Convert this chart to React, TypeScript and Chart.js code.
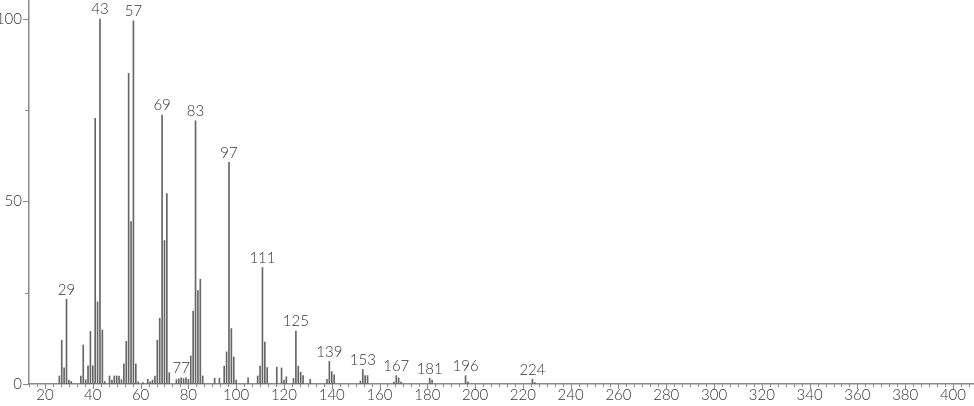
import React, { useEffect, useRef } from 'react';
import { Chart, registerables } from 'chart.js';

Chart.register(...registerables);

const masses = [
  26, 27, 28, 29, 30, 31, 35, 36, 37, 38, 39, 40, 41, 42, 43, 44, 45, 47, 48, 49, 50, 51, 52, 53, 54,
  55, 56, 57, 58, 59, 61, 63, 64, 65, 66, 67, 68, 69, 70, 71, 72, 75, 76, 77, 78, 79, 80, 81, 82, 83,
  84, 85, 86, 91, 93, 95, 96, 97, 98, 99, 100, 105, 109, 110, 111, 112, 113, 117, 119, 120, 121, 124,
  125, 126, 127, 128, 131, 138, 139, 140, 141, 152, 153, 154, 155, 166, 167, 168, 169, 181, 182, 196,
  197, 224, 225,
];

const intensities = [
  2.2, 12, 4.4, 23.2, 1.1, 0.7, 2.2, 10.7, 1.2, 5.0, 14.4, 5.0, 72.8, 22.5, 100, 14.8, 0.7, 2.2, 1.1,
  2.2, 2.2, 2.2, 1.2, 5.5, 11.7, 85.1, 44.5, 99.5, 5.5, 0.6, 0.4, 1.3, 0.6, 1.1, 2.2, 12, 18, 73.7,
  39.3, 52.2, 3.1, 1.2, 1.4, 1.7, 1.5, 1.7, 1.3, 7.7, 20, 72.1, 25.6, 28.7, 2.2, 1.6, 1.6, 4.9, 8.8,
  60.7, 15.2, 7.4, 1.1, 1.7, 2.2, 4.9, 31.9, 11.5, 4.5, 4.6, 4.4, 1.0, 2.0, 1.5, 14.5, 4.9, 3.2, 2.3,
  1.3, 1.3, 6.2, 3.4, 2.5, 0.8, 4.0, 2.3, 2.3, 0.5, 2.3, 1.7, 0.5, 1.6, 1.1, 2.3, 0.6, 1.3, 0.4,
];

const peakLabels = [29, 43, 57, 69, 77, 83, 97, 111, 125, 139, 153, 167, 181, 196, 224];

const xTickLabels = [20, 40, 60, 80, 100, 120, 140, 160, 180, 200, 220, 240, 260, 280, 300, 320, 340, 360, 380, 400];
const yTickLabels = [0, 50, 100];
const yMinorTicks = [25, 75];

const X_MIN = 13.3;
const X_MAX = 408.8;
const Y_MAX = 105.2;
const FONT = 'Lato, "DejaVu Sans", sans-serif';

const tickPlugin = {
  id: 'msTicks',
  afterDraw(chart: any) {
    const ctx = chart.ctx;
    const xs = chart.scales.x;
    const ys = chart.scales.y;
    const area = chart.chartArea;
    ctx.save();
    ctx.strokeStyle = '#8a8a8a';
    ctx.lineWidth = 1;
    const yAll = [...yTickLabels, ...yMinorTicks];
    yAll.forEach((v) => {
      const y = Math.round(ys.getPixelForValue(v)) + 0.5;
      const len = yTickLabels.includes(v) ? 6 : 4;
      ctx.beginPath();
      ctx.moveTo(area.left - len, y);
      ctx.lineTo(area.left, y);
      ctx.stroke();
    });
    const step = 20 / 6;
    const start = Math.ceil(X_MIN / step);
    const end = Math.floor(X_MAX / step);
    for (let i = start; i <= end; i++) {
      const v = i * step;
      const major = i % 6 === 0;
      const x = Math.round(xs.getPixelForValue(v)) + 0.5;
      ctx.beginPath();
      ctx.moveTo(x, area.bottom);
      ctx.lineTo(x, area.bottom + (major ? 5 : 3));
      ctx.stroke();
    }
    ctx.fillStyle = '#333';
    ctx.font = `300 15px ${FONT}`;
    ctx.textAlign = 'center';
    ctx.textBaseline = 'bottom';
    peakLabels.forEach((m) => {
      const idx = masses.indexOf(m);
      if (idx < 0) return;
      const x = xs.getPixelForValue(m);
      const y = ys.getPixelForValue(intensities[idx]) - 2;
      ctx.fillText(String(m), x, y);
    });
    ctx.restore();
  },
};

export default function App() {
  const canvasRef = useRef<HTMLCanvasElement | null>(null);

  useEffect(() => {
    document.body.style.margin = '0';
    const canvas = canvasRef.current;
    if (!canvas) return;
    const chart = new Chart(canvas, {
      type: 'bar',
      data: {
        datasets: [
          {
            data: masses.map((m, i) => ({ x: m, y: intensities[i] })),
            backgroundColor: '#666',
            borderWidth: 0,
            barThickness: 1,
          } as any,
        ],
      },
      options: {
        animation: false,
        responsive: true,
        maintainAspectRatio: false,
        layout: { padding: 0 },
        plugins: {
          legend: { display: false },
          tooltip: { enabled: false },
        },
        scales: {
          x: {
            type: 'linear',
            min: X_MIN,
            max: X_MAX,
            offset: false,
            grid: { display: false, drawTicks: false, offset: false },
            border: { display: true, color: '#8a8a8a', width: 1.5 },
            ticks: {
              autoSkip: false,
              maxRotation: 0,
              minRotation: 0,
              padding: 2,
              color: '#333',
              font: { family: FONT, size: 15, weight: '300' as any },
              callback: (v: any) => String(v),
            },
            afterBuildTicks: (scale: any) => {
              scale.ticks = xTickLabels.map((v) => ({ value: v }));
            },
            afterFit: (scale: any) => {
              scale.height = 22;
              scale.paddingLeft = 0;
              scale.paddingRight = 0;
            },
          },
          y: {
            type: 'linear',
            min: 0,
            max: Y_MAX,
            grid: { display: false, drawTicks: false },
            border: { display: true, color: '#8a8a8a', width: 1.5 },
            ticks: {
              padding: 7,
              color: '#333',
              font: { family: FONT, size: 15, weight: '300' as any },
              callback: (v: any) => String(v),
            },
            afterBuildTicks: (scale: any) => {
              scale.ticks = yTickLabels.map((v) => ({ value: v }));
            },
            afterFit: (scale: any) => {
              scale.width = 29;
              scale.paddingTop = 0;
              scale.paddingBottom = 0;
            },
          },
        },
      },
      plugins: [tickPlugin],
    });
    return () => chart.destroy();
  }, []);

  return (
    <div style={{ position: 'relative', width: 974, height: 406 }}>
      <canvas ref={canvasRef} />
    </div>
  );
}
